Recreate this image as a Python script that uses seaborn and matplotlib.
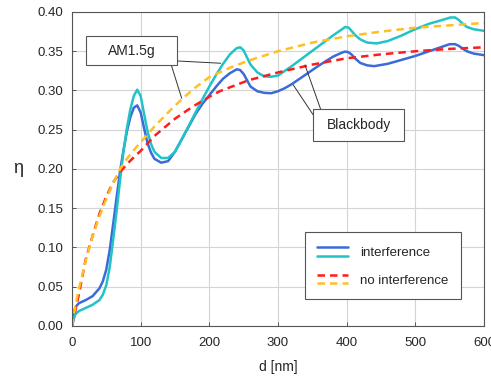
import numpy as np
import pandas as pd
import matplotlib
matplotlib.use("Agg")
import matplotlib.pyplot as plt
import seaborn as sns
from matplotlib.legend_handler import HandlerBase
from matplotlib.lines import Line2D
from matplotlib.patches import Rectangle

# values (d in nm, efficiency eta)
d_bb_int = [0, 3, 5, 10, 15, 20, 30, 40, 45, 50, 55, 60, 65, 70, 75, 80, 85, 90, 95, 100,
            105, 110, 115, 120, 130, 140, 150, 160, 170, 180, 190, 200, 210, 220, 230, 240,
            245, 250, 255, 260, 270, 280, 290, 300, 310, 320, 340, 360, 380, 390, 397, 402,
            407, 412, 420, 430, 440, 460, 480, 500, 520, 540, 550, 558, 563, 568, 575, 585, 600]
eta_bb_int = [0, 0.018, 0.024, 0.029, 0.031, 0.033, 0.038, 0.048, 0.057, 0.072, 0.097, 0.13,
              0.164, 0.197, 0.224, 0.248, 0.266, 0.278, 0.281, 0.272, 0.252, 0.233, 0.221, 0.213,
              0.208, 0.21, 0.222, 0.238, 0.254, 0.27, 0.283, 0.294, 0.305, 0.315, 0.322, 0.327,
              0.326, 0.321, 0.313, 0.305, 0.299, 0.297, 0.2965, 0.299, 0.303, 0.308, 0.32, 0.332,
              0.343, 0.347, 0.3495, 0.349, 0.346, 0.341, 0.335, 0.332, 0.331, 0.334, 0.339, 0.344,
              0.35, 0.356, 0.359, 0.359, 0.357, 0.354, 0.35, 0.347, 0.345]

d_am_int = [0, 3, 5, 10, 20, 30, 40, 45, 50, 55, 60, 65, 70, 75, 80, 85, 90, 95, 100, 105,
            110, 115, 120, 130, 140, 150, 160, 170, 180, 190, 200, 210, 220, 230, 240, 245,
            250, 255, 260, 270, 280, 290, 300, 320, 340, 360, 380, 390, 398, 403, 408, 413,
            420, 430, 444, 460, 480, 497, 520, 540, 551, 558, 563, 568, 575, 585, 600]
eta_am_int = [0, 0.01, 0.015, 0.019, 0.023, 0.027, 0.033, 0.04, 0.052, 0.075, 0.11, 0.146,
              0.186, 0.222, 0.252, 0.276, 0.293, 0.301, 0.293, 0.27, 0.248, 0.232, 0.222, 0.214,
              0.214, 0.222, 0.238, 0.255, 0.272, 0.289, 0.305, 0.32, 0.334, 0.346, 0.354, 0.355,
              0.351, 0.342, 0.333, 0.323, 0.318, 0.3175, 0.319, 0.331, 0.344, 0.357, 0.37, 0.376,
              0.381, 0.38, 0.375, 0.37, 0.365, 0.361, 0.36, 0.363, 0.37, 0.377, 0.385, 0.39,
              0.393, 0.393, 0.39, 0.386, 0.381, 0.378, 0.376]

d_bb_noint = [0, 5, 10, 20, 30, 40, 50, 60, 70, 80, 90, 100, 120, 150, 175, 200, 215, 257,
              300, 350, 400, 450, 500, 550, 600]
eta_bb_noint = [0, 0.02, 0.04, 0.085, 0.115, 0.143, 0.165, 0.183, 0.196, 0.206, 0.215, 0.223,
                0.242, 0.264, 0.279, 0.292, 0.299, 0.313, 0.323, 0.333, 0.341, 0.346, 0.35,
                0.353, 0.355]

d_am_noint = [0, 5, 10, 20, 30, 40, 50, 60, 70, 80, 90, 100, 120, 140, 160, 180, 200, 230,
              257, 300, 350, 400, 450, 500, 550, 600]
eta_am_noint = [0, 0.026, 0.047, 0.083, 0.114, 0.14, 0.162, 0.182, 0.2, 0.213, 0.224, 0.234,
                0.254, 0.272, 0.289, 0.304, 0.317, 0.329, 0.338, 0.35, 0.361, 0.369, 0.375,
                0.38, 0.383, 0.386]

x_ticks = [0, 100, 200, 300, 400, 500, 600]
y_ticks = [0.0, 0.05, 0.10, 0.15, 0.20, 0.25, 0.30, 0.35, 0.40]

c_blue = "#3a6bd9"
c_cyan = "#22c3c6"
c_red = "#ff1c1c"
c_yellow = "#ffbf26"

sns.set_theme(style="whitegrid")
plt.rcParams["font.family"] = ["Liberation Sans", "DejaVu Sans"]

fig = plt.figure(figsize=(4.91, 3.78), dpi=100)
ax = fig.add_axes([0.1466, 0.1376, 0.8391, 0.8307])

lw = 1.8
sns.lineplot(x=d_bb_int, y=eta_bb_int, ax=ax, color=c_blue, lw=lw, sort=False)
sns.lineplot(x=d_am_int, y=eta_am_int, ax=ax, color=c_cyan, lw=lw, sort=False)
sns.lineplot(x=d_bb_noint, y=eta_bb_noint, ax=ax, color=c_red, lw=lw, sort=False)
sns.lineplot(x=d_am_noint, y=eta_am_noint, ax=ax, color=c_yellow, lw=lw, sort=False)
lines = ax.get_lines()
for ln in lines[2:4]:
    ln.set_dashes((3, 2))

ax.set_xlim(0, 600)
ax.set_ylim(0, 0.40)
ax.set_xticks(x_ticks)
ax.set_yticks(y_ticks)
ax.set_yticklabels([f"{v:.2f}" for v in y_ticks])
ax.tick_params(direction="in", length=3, width=0.6, colors="#404040", labelsize=9.5,
               labelcolor="#262626", left=True, bottom=True)
ax.tick_params(axis="x", pad=8)
ax.tick_params(axis="y", pad=6)
ax.grid(True, color="#d4d4d4", lw=0.8)
for s in ax.spines.values():
    s.set_visible(True)
    s.set_color("#555555")
    s.set_linewidth(0.8)
ax.set_facecolor("white")
ax.set_xlabel("d [nm]", fontsize=10, color="#262626", labelpad=8)
ax.set_ylabel("η", fontsize=13, color="#262626", rotation=0, labelpad=14, va="center")

# annotation boxes with leader lines
for (x0, x1, y0, y1) in [(20.4, 152.9, 0.3325, 0.3694), (351.4, 483.5, 0.2357, 0.2760)]:
    ax.add_patch(Rectangle((x0, y0), x1 - x0, y1 - y0, fc="white", ec="#555555",
                           lw=0.8, zorder=5))
ax.text(86.7, 0.3505, "AM1.5g", fontsize=10, ha="center", va="center", zorder=6)
ax.text(417.5, 0.2555, "Blackbody", fontsize=10, ha="center", va="center", zorder=6)
lead = dict(arrowstyle="-", color="#333333", lw=0.7, shrinkA=0, shrinkB=0)
ax.annotate("", xy=(216.6, 0.3347), xytext=(152.9, 0.3376), arrowprops=lead)
ax.annotate("", xy=(159.8, 0.290), xytext=(144.6, 0.3325), arrowprops=lead)
ax.annotate("", xy=(322.3, 0.307), xytext=(351.4, 0.2688), arrowprops=lead)
ax.annotate("", xy=(339.3, 0.3325), xytext=(362.2, 0.2760), arrowprops=lead)


class Pair:
    def __init__(self, a, b):
        self.a, self.b = a, b


class PairHandler(HandlerBase):
    def create_artists(self, legend, orig, xd, yd, w, h, fs, trans):
        out = []
        for k, src in enumerate((orig.a, orig.b)):
            y = h / 2 - yd + (0.5 - k) * h * 0.55
            ln = Line2D([-xd, -xd + w], [y, y], color=src.get_color(),
                        lw=src.get_linewidth())
            if src.get_linestyle() != "-":
                ln.set_dashes((3, 2))
            ln.set_transform(trans)
            out.append(ln)
        return out


leg = ax.legend([Pair(lines[0], lines[1]), Pair(lines[2], lines[3])],
                ["interference", "no interference"],
                handler_map={Pair: PairHandler()},
                loc="lower right", bbox_to_anchor=(0.956, 0.07),
                fontsize=9.5, handlelength=2.4, handleheight=1.4, labelspacing=0.95,
                borderpad=0.9, handletextpad=0.9, borderaxespad=0.4, fancybox=False,
                framealpha=1, edgecolor="#555555")
leg.get_frame().set_linewidth(0.8)

fig.savefig("out.png", dpi=100)
